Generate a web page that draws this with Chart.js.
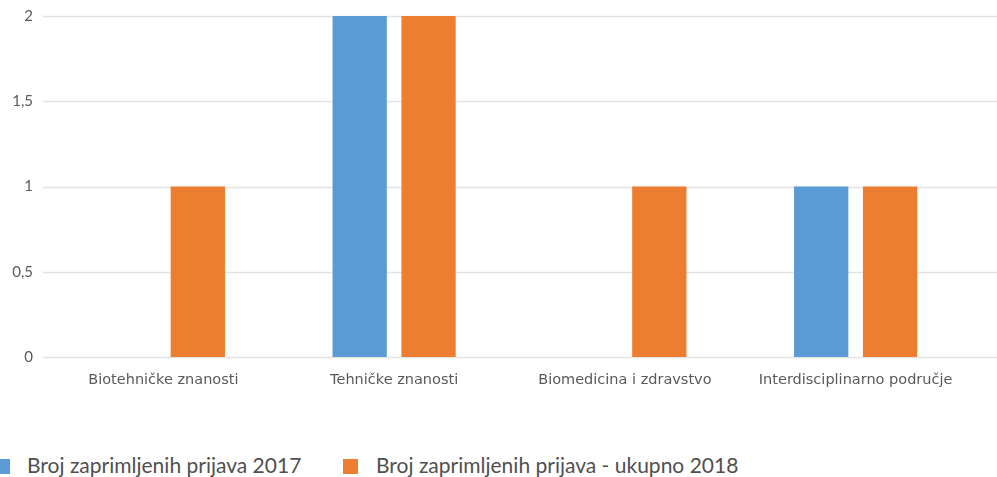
<!DOCTYPE html>
<html>
<head>
<meta charset="utf-8">
<script src="https://cdn.jsdelivr.net/npm/chart.js@4/dist/chart.umd.min.js"></script>
<style>
  html, body { margin: 0; padding: 0; background: #fff; }
  body { width: 997px; height: 477px; overflow: hidden; position: relative; }
  #chartBox { position: absolute; left: 0; top: 0; width: 997px; height: 400px; }
  #legend { position: absolute; left: 0; top: 456px; width: 997px; height: 20px; font-family: Lato, sans-serif; font-size: 21px; color: #505050; }
  .box { position: absolute; top: 3px; width: 15px; height: 15px; }
  .txt { position: absolute; top: -3px; line-height: 24px; white-space: nowrap; }
</style>
</head>
<body>
<div id="chartBox"><canvas id="c" width="997" height="400"></canvas></div>
<div id="legend"></div>
<script>
const categories = ["Biotehničke znanosti", "Tehničke znanosti", "Biomedicina i zdravstvo", "Interdisciplinarno područje"];
const seriesNames = ["Broj zaprimljenih prijava 2017", "Broj zaprimljenih prijava - ukupno 2018"];
const values2017 = [0, 2, 0, 1];
const values2018 = [1, 2, 1, 1];
const yTicks = [0, 0.5, 1, 1.5, 2];
const yTickLabels = ["0", "0,5", "1", "1,5", "2"];
const colors = ["#5B9BD5", "#ED7D31"];

const extendedGrid = {
  id: 'extendedGrid',
  beforeDatasetsDraw(chart) {
    const ctx = chart.ctx;
    const y = chart.scales.y;
    ctx.save();
    ctx.strokeStyle = '#e3e3e3';
    ctx.lineWidth = 1.5;
    y.ticks.forEach(t => {
      const py = Math.round(y.getPixelForValue(t.value)) + 0.5;
      ctx.beginPath();
      ctx.moveTo(43, py);
      ctx.lineTo(chart.width, py);
      ctx.stroke();
    });
    ctx.restore();
  }
};

const chart = new Chart(document.getElementById('c'), {
  type: 'bar',
  data: {
    labels: categories,
    datasets: [
      { label: seriesNames[0], data: values2017, backgroundColor: colors[0], categoryPercentage: 0.597, barPercentage: 0.788 },
      { label: seriesNames[1], data: values2018, backgroundColor: colors[1], categoryPercentage: 0.597, barPercentage: 0.788 }
    ]
  },
  options: {
    responsive: false,
    animation: false,
    layout: { padding: { top: 16, right: 26, left: 0, bottom: 0 } },
    plugins: { legend: { display: false }, tooltip: { enabled: false } },
    scales: {
      x: {
        grid: { display: false, drawTicks: false },
        border: { display: false },
        ticks: { padding: 15, color: '#5a5a5a', font: { family: 'DejaVu Sans', size: 14.5 }, maxRotation: 0, autoSkip: false },
        afterFit(s) { s.height = 43; s.paddingLeft = 0; s.paddingRight = 0; }
      },
      y: {
        min: 0, max: 2,
        grid: { display: false, drawTicks: false },
        border: { display: false },
        afterBuildTicks(s) { s.ticks = yTicks.map(v => ({ value: v })); },
        ticks: {
          padding: 15, color: '#5a5a5a', font: { family: 'Lato', size: 15 },
          callback: (v) => { const i = yTicks.indexOf(v); return i >= 0 ? yTickLabels[i] : ''; }
        },
        afterFit(s) { s.width = 48; s.paddingTop = 0; s.paddingBottom = 0; }
      }
    }
  },
  plugins: [extendedGrid]
});

// HTML legend built from the chart's datasets
const legendPos = [{ box: -5, txt: 27 }, { box: 343, txt: 376 }];
const leg = document.getElementById('legend');
chart.data.datasets.forEach((ds, i) => {
  const b = document.createElement('div');
  b.className = 'box';
  b.style.left = legendPos[i].box + 'px';
  b.style.background = ds.backgroundColor;
  const t = document.createElement('div');
  t.className = 'txt';
  t.style.left = legendPos[i].txt + 'px';
  t.textContent = ds.label;
  leg.appendChild(b);
  leg.appendChild(t);
});
</script>
</body>
</html>
